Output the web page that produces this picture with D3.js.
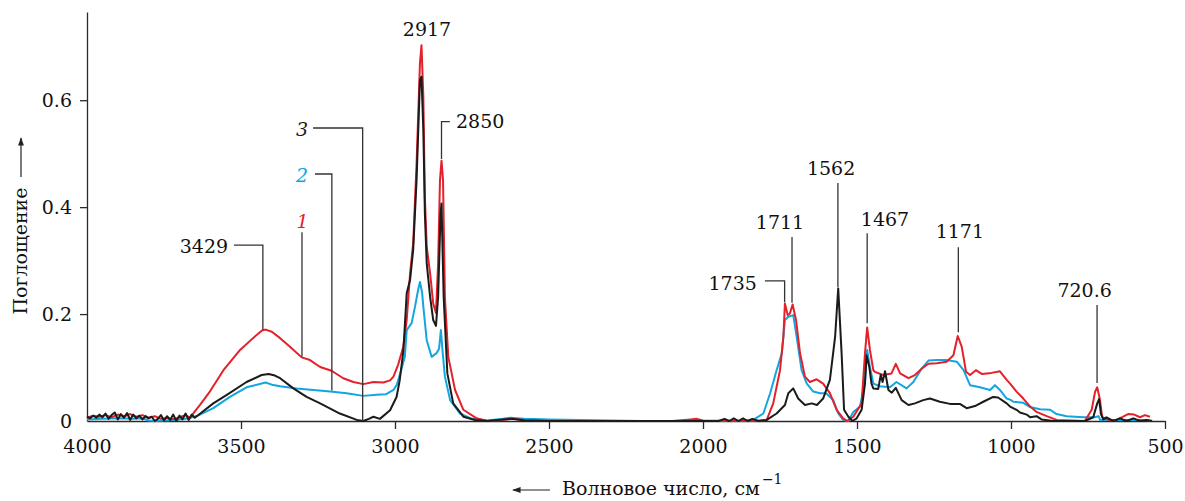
<!DOCTYPE html>
<html>
<head>
<meta charset="utf-8">
<script src="https://cdn.jsdelivr.net/npm/d3@7"></script>
<style>
  body { margin: 0; background: #fff; }
  svg text { font-family: "DejaVu Serif", serif; }
</style>
</head>
<body>
<svg id="chart" width="1185" height="501"></svg>
<script>
// spectrum 1 (red)
const wave1 = [4000,3980,3960,3940,3920,3900,3880,3860,3840,3820,3800,3780,3760,3740,3720,3700,3680,3665,3650,3633,3600,3557,3503,3461,3433,3420,3400,3373,3341,3303,3276,3243,3206,3168,3135,3103,3070,3038,3016,3005,2990,2973,2962,2951,2941,2930,2919,2914,2908,2903,2897,2886,2876,2867,2860,2854,2849,2844,2838,2827,2805,2778,2735,2700,2650,2620,2580,2500,2100,2040,2020,2000,1900,1837,1793,1772,1750,1739,1734,1725,1718,1709,1698,1685,1669,1653,1631,1610,1588,1566,1545,1532,1512,1485,1474,1467,1458,1447,1442,1415,1388,1374,1360,1333,1312,1290,1268,1241,1209,1187,1173,1160,1146,1133,1114,1095,1063,1036,1014,1003,982,960,938,917,884,852,760,738,727,720,711,704,683,660,636,620,600,581,565,549];
const abs1 = [0.006,0.01,0.008,0.011,0.007,0.012,0.009,0.013,0.008,0.011,0.006,0.009,0.004,0.006,0.003,0.007,0.011,0.006,0.018,0.03,0.056,0.095,0.133,0.155,0.169,0.171,0.167,0.155,0.139,0.119,0.114,0.101,0.094,0.08,0.073,0.069,0.073,0.072,0.076,0.083,0.105,0.139,0.189,0.276,0.332,0.48,0.669,0.703,0.606,0.419,0.326,0.276,0.22,0.202,0.295,0.45,0.487,0.45,0.232,0.12,0.058,0.021,0.005,0,0.002,0.004,0.002,0,0,0.003,0.004,0.001,0,0,0.002,0.033,0.095,0.158,0.22,0.198,0.201,0.218,0.189,0.127,0.083,0.073,0.078,0.07,0.052,0.021,0.005,0,0.008,0.033,0.127,0.175,0.133,0.095,0.092,0.086,0.089,0.107,0.089,0.08,0.086,0.098,0.107,0.108,0.111,0.123,0.159,0.139,0.092,0.086,0.095,0.088,0.09,0.093,0.077,0.07,0.055,0.042,0.027,0.017,0.009,0.002,0,0.021,0.055,0.063,0.039,0.007,0.002,0.001,0.008,0.013,0.012,0.007,0.011,0.008];

// spectrum 2 (blue)
const wave2 = [4000,3950,3900,3850,3820,3800,3780,3750,3700,3670,3640,3590,3536,3482,3433,3420,3400,3373,3319,3265,3210,3157,3103,3060,3030,3005,2994,2980,2968,2962,2946,2935,2925,2919,2912,2908,2897,2881,2865,2857,2851,2846,2838,2821,2789,2750,2700,2650,2627,2580,2500,2400,2300,2200,1900,1837,1804,1782,1761,1744,1734,1723,1707,1696,1680,1663,1642,1620,1600,1577,1561,1545,1528,1512,1490,1474,1467,1458,1447,1425,1393,1372,1339,1317,1290,1268,1241,1210,1176,1154,1133,1101,1068,1052,1036,1014,1003,992,960,938,906,873,852,819,765,730,715,711,680,600,560,542];
const abs2 = [0.003,0.004,0.005,0.004,0.005,0.001,0,0.001,0.003,0.005,0.01,0.024,0.045,0.063,0.07,0.072,0.068,0.065,0.061,0.058,0.055,0.052,0.047,0.049,0.05,0.058,0.068,0.095,0.12,0.17,0.183,0.214,0.245,0.26,0.24,0.214,0.151,0.12,0.127,0.135,0.17,0.133,0.083,0.039,0.014,0.004,0.001,0.004,0.006,0.004,0.003,0.002,0.001,0,0,0.002,0.014,0.052,0.095,0.127,0.189,0.195,0.198,0.158,0.095,0.07,0.055,0.052,0.052,0.039,0.014,0.002,0,0.017,0.027,0.077,0.133,0.101,0.07,0.065,0.063,0.073,0.061,0.073,0.098,0.113,0.114,0.114,0.111,0.095,0.067,0.063,0.058,0.067,0.058,0.042,0.04,0.036,0.034,0.026,0.022,0.021,0.013,0.009,0.007,0.007,0.009,0.002,0.002,0.002,0.002,0];

// spectrum 3 (black)
const wave3 = [4000,3990,3980,3970,3960,3950,3940,3930,3920,3910,3900,3890,3880,3870,3860,3850,3840,3830,3820,3810,3800,3790,3780,3770,3760,3750,3740,3730,3720,3710,3700,3690,3680,3670,3660,3650,3630,3590,3546,3482,3433,3410,3390,3373,3330,3287,3243,3179,3124,3103,3085,3070,3049,3016,2995,2985,2973,2962,2951,2941,2930,2919,2914,2908,2903,2897,2886,2876,2867,2860,2852,2849,2842,2830,2811,2778,2740,2700,2650,2620,2580,2500,1950,1930,1915,1900,1885,1870,1855,1840,1820,1793,1761,1734,1723,1707,1691,1669,1647,1630,1610,1588,1571,1561,1550,1542,1528,1515,1501,1485,1474,1469,1460,1453,1447,1431,1423,1417,1409,1398,1387,1374,1355,1333,1312,1285,1263,1231,1198,1166,1144,1117,1090,1058,1042,1014,1003,982,971,949,938,917,901,863,760,733,720,714,708,700,690,668,646,625,603,580,560,542];
const abs3 = [0.008,0.005,0.01,0.006,0.012,0.007,0.014,0.004,0.011,0.016,0.003,0.013,0.006,0.015,0.002,0.012,0.005,0.01,0.003,0.009,0.005,0.008,0,0.004,0.011,0.001,0.009,0.002,0.012,0,0.01,0.003,0.014,0.002,0.012,0.006,0.015,0.033,0.049,0.073,0.086,0.088,0.085,0.08,0.061,0.045,0.033,0.014,0.002,0,0.004,0.008,0.004,0.02,0.045,0.075,0.13,0.239,0.264,0.32,0.45,0.637,0.644,0.544,0.388,0.295,0.232,0.189,0.178,0.232,0.388,0.407,0.232,0.089,0.033,0.008,0.002,0,0.003,0.004,0.001,0,0,0.004,0,0.005,0,0.005,0,0.004,0,0.002,0.014,0.03,0.052,0.061,0.042,0.03,0.033,0.03,0.042,0.077,0.158,0.248,0.127,0.021,0.008,0,0.005,0.021,0.07,0.123,0.101,0.07,0.061,0.06,0.086,0.073,0.093,0.058,0.053,0.062,0.039,0.03,0.033,0.039,0.042,0.036,0.032,0.032,0.024,0.028,0.036,0.045,0.044,0.033,0.027,0.021,0.016,0.012,0.007,0.009,0.003,0,0,0.007,0.033,0.041,0.013,0.003,0.007,0,0.005,0,0.005,0,0.002,0];

const xTicks = [4000, 3500, 3000, 2500, 2000, 1500, 1000, 500];
const yTicks = [0, 0.2, 0.4, 0.6];

// peak labels: text, leader wavenumber, leader bottom/top, text position
const peakText  = ["2917", "2850", "3429", "1735", "1711", "1562", "1467", "1171", "720.6"];
const peakWave  = [2917, 2849, 3429, 1735, 1711, 1562, 1467, 1171, 720.6];
const peakLow   = [null, 0.49, 0.170, 0.222, 0.221, 0.25, 0.183, 0.166, 0.071];
const peakHigh  = [null, 0.56, 0.329, 0.262, 0.344, 0.445, 0.351, 0.325, 0.217];
const peakElbow = [null, 2822, 3523, 1799, null, null, null, null, null];
const peakTextW = [2896, 2802, 3542, 1825, 1750, 1584, 1409, 1166, 761];
const peakTextA = [0.72, 0.548, 0.314, 0.245, 0.359, 0.46, 0.364, 0.342, 0.232];
const peakAnchor = ["middle", "start", "end", "end", "middle", "middle", "middle", "middle", "middle"];

// curve numbers
const curveText  = ["3", "2", "1"];
const curveColor = ["#1b1b1b", "#12a6e0", "#e4202a"];
const curveWave  = [3105, 3205, 3302];
const curveLow   = [0, 0.057, 0.12];
const curveHigh  = [0.548, 0.462, 0.353];
const curveElbow = [3266, 3260, null];
const curveTextW = [3282, 3282, 3300];
const curveTextA = [0.533, 0.447, 0.361];

const svg = d3.select("#chart");
const x = d3.scaleLinear().domain([4000, 500]).range([87, 1165]);
const y = d3.scaleLinear().domain([0, 0.765]).range([421, 12]);
const ink = "#2a2a2a";
const serif = "'DejaVu Serif', serif";
const fs = "19px";

// axes
const xAxis = svg.append("g").attr("transform", "translate(0,421)")
  .call(d3.axisBottom(x).tickValues(xTicks).tickSize(8).tickSizeOuter(0).tickPadding(11).tickFormat(d3.format("d")));
const yAxis = svg.append("g").attr("transform", "translate(87,0)")
  .call(d3.axisLeft(y).tickValues(yTicks).tickSize(7).tickSizeOuter(0).tickPadding(8)
    .tickFormat(d => d === 0 ? "0" : d.toFixed(1)));
[xAxis, yAxis].forEach(a => {
  a.attr("font-family", null).attr("font-size", null);
  a.select(".domain").attr("stroke", ink).attr("stroke-width", 1.3);
  a.selectAll(".tick line").attr("stroke", ink).attr("stroke-width", 1.3);
  a.selectAll(".tick text").attr("fill", "#111").style("font-size", fs).style("font-family", serif);
});
xAxis.selectAll(".tick").filter(d => d === 4000).select("line").remove();
yAxis.selectAll(".tick").filter(d => d === 0).select("line").remove();

// spectra
const line = d3.line().x(d => x(d[0])).y(d => y(d[1]));
const series = [
  { w: wave2, a: abs2, color: "#12a6e0" },
  { w: wave1, a: abs1, color: "#e4202a" },
  { w: wave3, a: abs3, color: "#1b1b1b" }
];
svg.append("g").selectAll("path").data(series).enter().append("path")
  .attr("d", s => line(d3.zip(s.w, s.a)))
  .attr("fill", "none").attr("stroke", s => s.color)
  .attr("stroke-width", 2).attr("stroke-linejoin", "round");

// peak leaders and labels
const ann = svg.append("g");
peakText.forEach((t, i) => {
  if (peakLow[i] !== null) {
    let pts = [[peakWave[i], peakLow[i]], [peakWave[i], peakHigh[i]]];
    if (peakElbow[i] !== null) pts.push([peakElbow[i], peakHigh[i]]);
    ann.append("path").attr("d", line(pts)).attr("fill", "none").attr("stroke", "#333").attr("stroke-width", 1.3);
  }
  ann.append("text").attr("x", x(peakTextW[i])).attr("y", y(peakTextA[i]))
    .attr("text-anchor", peakAnchor[i]).style("font-size", fs).style("font-family", serif).attr("fill", "#111").text(t);
});

// curve number leaders
curveText.forEach((t, i) => {
  let pts = [[curveWave[i], curveLow[i]], [curveWave[i], curveHigh[i]]];
  if (curveElbow[i] !== null) pts.push([curveElbow[i], curveHigh[i]]);
  ann.append("path").attr("d", line(pts)).attr("fill", "none").attr("stroke", "#333").attr("stroke-width", 1.3);
  ann.append("text").attr("x", x(curveTextW[i])).attr("y", y(curveTextA[i]))
    .attr("text-anchor", curveElbow[i] !== null ? "end" : "middle")
    .style("font-size", fs).style("font-family", serif).style("font-style", "italic").attr("fill", curveColor[i]).text(t);
});

// arrow marker
svg.append("defs").append("marker").attr("id", "arr").attr("viewBox", "0 0 10 10")
  .attr("refX", 9).attr("refY", 5).attr("markerWidth", 7).attr("markerHeight", 7).attr("orient", "auto")
  .append("path").attr("d", "M0,1.5L10,5L0,8.5Z").attr("fill", "#222");

// y label
const yl = svg.append("g").attr("transform", "translate(27,251) rotate(-90)");
yl.append("text").attr("text-anchor", "middle").style("font-size", fs).style("font-family", serif).attr("fill", "#111").text("Поглощение");
yl.append("line").attr("x1", 74).attr("x2", 113).attr("y1", -6).attr("y2", -6)
  .attr("stroke", "#222").attr("stroke-width", 1.2).attr("marker-end", "url(#arr)");

// x label
svg.append("line").attr("x1", 550).attr("x2", 513).attr("y1", 490).attr("y2", 490)
  .attr("stroke", "#222").attr("stroke-width", 1.2).attr("marker-end", "url(#arr)");
const xl = svg.append("text").attr("x", 562).attr("y", 495).style("font-size", fs).style("font-family", serif).attr("fill", "#111");
xl.append("tspan").text("Волновое число, см");
xl.append("tspan").attr("dy", -11).attr("dx", 2).style("font-size", "14px").text("\u22121");
</script>
</body>
</html>
